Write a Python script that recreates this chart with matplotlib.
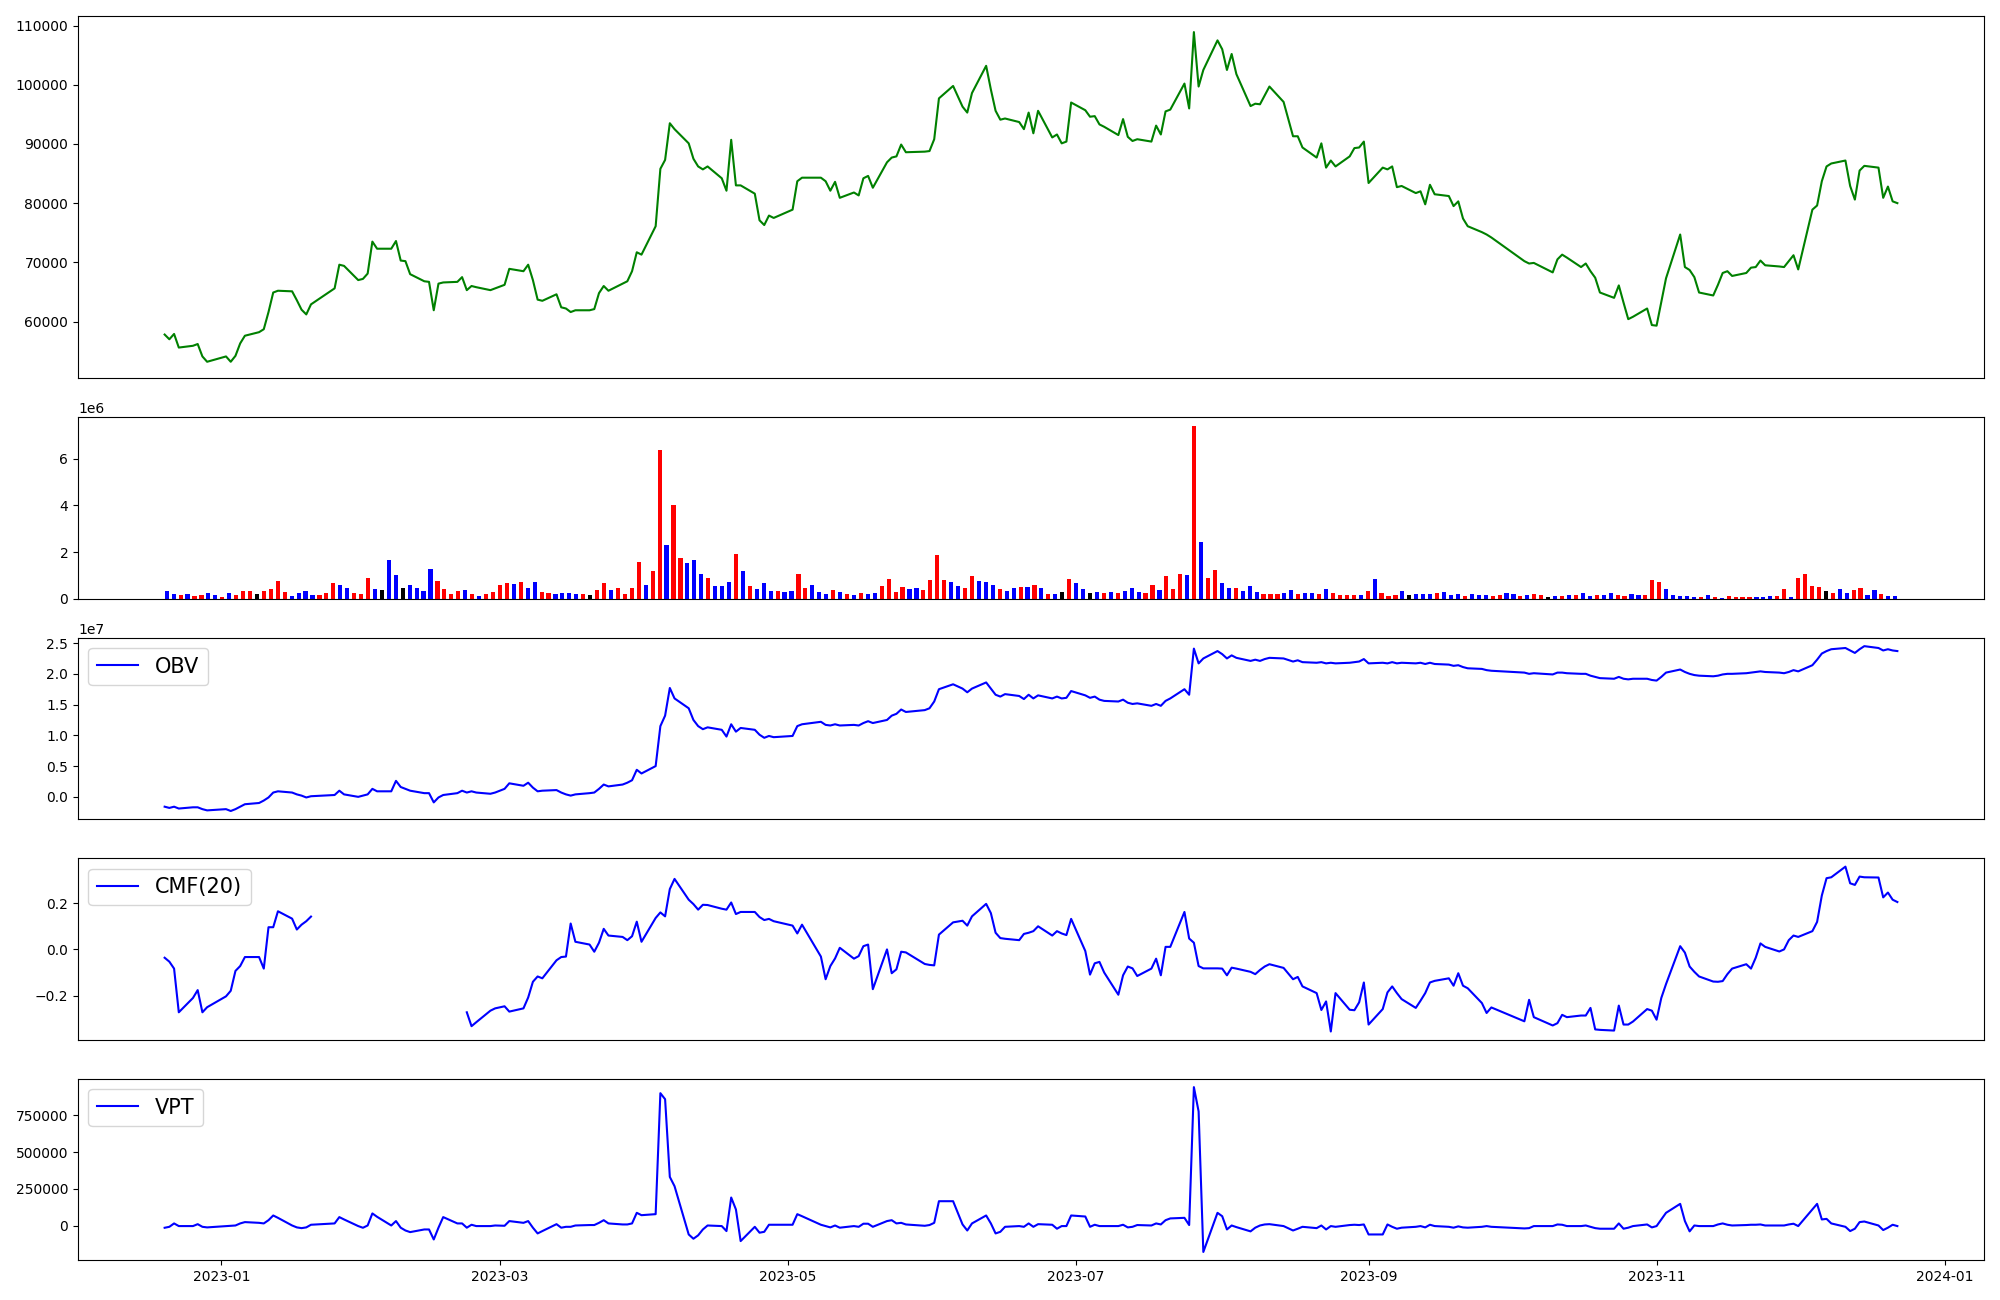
import numpy as np
import pandas as pd
import matplotlib
matplotlib.use("Agg")
import matplotlib.pyplot as plt

# trading days (KRX calendar)
holidays = ['2022-12-30', '2023-01-23', '2023-01-24', '2023-03-01', '2023-05-01',
            '2023-05-05', '2023-05-29', '2023-06-06', '2023-08-15', '2023-09-28',
            '2023-09-29', '2023-10-02', '2023-10-03', '2023-10-09']
dates = pd.bdate_range('2022-12-20', '2023-12-22', freq='C', holidays=holidays)

close = [
    57800, 57000, 57900, 55600, 55900, 56200, 54100, 53200,
    54100, 53200, 54200, 56300, 57600, 58200, 58700, 61600, 64900, 65200,
    65100, 63600, 62000, 61200, 62900, 65600, 69600, 69400, 67000, 67200,
    68100, 73500, 72300, 72300, 73600, 70300, 70200, 68000, 66800, 66700,
    61900, 66400, 66600, 66700, 67500, 65300, 66000, 65800, 65300, 65600,
    66200, 68900, 68500, 69600, 67000, 63700, 63500, 64600, 62400, 62200,
    61600, 61900, 61900, 62100, 64800, 66000, 65200, 66400, 66800, 68500, 71700, 71300,
    76100, 85800, 87300, 93500, 92500, 90100, 87500, 86200, 85700, 86200,
    84200, 82100, 90700, 83000, 83000, 81600, 77100, 76300, 77900, 77500,
    78900, 83700, 84300, 84300, 83700, 82100, 83600, 80900, 81800, 81300,
    84200, 84600, 82600, 86900, 87700, 87900, 89900, 88600, 88700, 88800,
    90800, 97700, 99800, 96300, 95300, 98600, 103200, 99200, 95600, 94100,
    94300, 93700, 92500, 95300, 91800, 95600, 91100, 91600, 90100, 90400, 97000,
    95700, 94600, 94700, 93300, 92900, 91500, 94200, 91200, 90500, 90800,
    90400, 93100, 91600, 95500, 95800, 100200, 96000, 108900, 99700, 102500, 107500,
    106000, 102500, 105200, 101800, 96400, 96800, 96700, 98200, 99700, 97100,
    91300, 91300, 89400, 87700, 90100, 86000, 87200, 86200, 87900, 89300, 89400, 90400,
    83400, 86000, 85700, 86200, 82700, 82900, 81700, 82000, 79800, 83100,
    81500, 81200, 79500, 80300, 77400, 76100, 75100, 74700, 74200,
    70200, 69800, 69900, 68300, 70500, 71300, 70800, 69200, 69800, 68500,
    67400, 64900, 64000, 66100, 63200, 60400, 60800, 62200, 59400,
    59300, 63300, 67300, 74700, 69200, 68700, 67500, 64900, 64400, 66200,
    68200, 68500, 67700, 68200, 69100, 69200, 70300, 69500, 69300, 69200, 70200, 71200,
    68800, 78900, 79600, 83700, 86200, 86700, 87200, 82900, 80600, 85500,
    86300, 86000, 80900, 82800, 80300, 80000,
]

# volume in millions
volume_m = [
    0.34, 0.21, 0.17, 0.21, 0.13, 0.17, 0.26, 0.17, 0.09, 0.26,
    0.17, 0.34, 0.34, 0.21, 0.34, 0.43, 0.77, 0.30, 0.13, 0.26,
    0.34, 0.17, 0.17, 0.26, 0.68, 0.60, 0.47, 0.26, 0.21, 0.90,
    0.43, 0.38, 1.67, 1.03, 0.47, 0.60, 0.47, 0.34, 1.28, 0.77,
    0.43, 0.21, 0.34, 0.38, 0.21, 0.13, 0.21, 0.30, 0.60, 0.68,
    0.64, 0.73, 0.47, 0.73, 0.30, 0.26, 0.21, 0.26, 0.26, 0.21,
    0.21, 0.17, 0.38, 0.68, 0.38, 0.47, 0.21, 0.47, 1.58, 0.60,
    1.20, 6.37, 2.31, 4.02, 1.75, 1.54, 1.67, 1.07, 0.90, 0.56,
    0.56, 0.73, 1.92, 1.20, 0.56, 0.43, 0.68, 0.34, 0.34, 0.30,
    0.34, 1.07, 0.47, 0.60, 0.30, 0.21, 0.38, 0.30, 0.21, 0.17,
    0.26, 0.21, 0.26, 0.56, 0.85, 0.30, 0.51, 0.43, 0.47, 0.38,
    0.81, 1.88, 0.81, 0.73, 0.56, 0.47, 0.98, 0.77, 0.73, 0.60,
    0.43, 0.34, 0.47, 0.51, 0.51, 0.60, 0.47, 0.21, 0.21, 0.30,
    0.85, 0.68, 0.43, 0.26, 0.30, 0.26, 0.30, 0.26, 0.34, 0.47,
    0.30, 0.26, 0.60, 0.38, 0.98, 0.43, 1.07, 1.03, 7.39, 2.44,
    0.90, 1.24, 0.68, 0.47, 0.47, 0.34, 0.56, 0.30, 0.21, 0.21,
    0.21, 0.26, 0.38, 0.21, 0.26, 0.26, 0.21, 0.43, 0.26, 0.17,
    0.17, 0.17, 0.17, 0.34, 0.85, 0.26, 0.13, 0.17, 0.34, 0.17,
    0.21, 0.21, 0.21, 0.26, 0.30, 0.17, 0.21, 0.13, 0.21, 0.17,
    0.17, 0.13, 0.17, 0.26, 0.21, 0.13, 0.17, 0.21, 0.17, 0.09,
    0.13, 0.13, 0.17, 0.17, 0.26, 0.13, 0.17, 0.17, 0.26, 0.17,
    0.13, 0.21, 0.17, 0.17, 0.81, 0.73, 0.43, 0.17, 0.13, 0.13,
    0.09, 0.09, 0.17, 0.09, 0.04, 0.13, 0.09, 0.09, 0.09, 0.09,
    0.09, 0.13, 0.13, 0.43, 0.09, 0.90, 1.07, 0.56, 0.51, 0.34,
    0.26, 0.43, 0.26, 0.38, 0.47, 0.17, 0.38, 0.21, 0.13, 0.13,
]

# candle direction: R = up, B = down, K = unchanged
candle = ("BBRBRRBBRB" "RRRKRRRRBB" "BBRRRBBRRR" "BKBBKBBBBR" "RRRBRBRRRR"
          "BRBBRRBBBB" "RKRRBRRRRB" "RRBRRBBBRB" "BBRBRBBBRB" "BRRBBBRBRB"
          "RBBRRRRBBR" "RRRBBRRBBB" "RBBRBRBRBK" "RBBKBRBRBB" "BRRBRRRBRB"
          "RRBBRBBBRR" "RBBRBBRBRR" "RRBRBRRRBK" "BBBRBBBRBB" "BRRBBRBRRK"
          "BRBRBBRBBR" "RBBRRRBBBB" "BRBRBRRRRB" "BBRRBRRRRK" "RBBRRBBRBB")

# OBV in 1e7
obv = [
    -0.16, -0.18, -0.16, -0.19, -0.17, -0.17, -0.20, -0.22,
    -0.20, -0.23, -0.20, -0.16, -0.12, -0.10, -0.06, -0.01, 0.07, 0.09,
    0.07, 0.04, 0.02, -0.01, 0.01, 0.03, 0.10, 0.04, 0.00, 0.02,
    0.04, 0.13, 0.09, 0.09, 0.26, 0.16, 0.13, 0.10, 0.06, 0.06,
    -0.09, -0.01, 0.03, 0.06, 0.10, 0.07, 0.09, 0.07, 0.05, 0.07,
    0.13, 0.22, 0.18, 0.23, 0.15, 0.09, 0.10, 0.11, 0.07, 0.04,
    0.02, 0.04, 0.06, 0.07, 0.13, 0.20, 0.17, 0.20, 0.23, 0.27, 0.44, 0.38,
    0.50, 1.15, 1.32, 1.77, 1.60, 1.44, 1.25, 1.15, 1.10, 1.13,
    1.09, 0.98, 1.18, 1.06, 1.12, 1.09, 1.01, 0.96, 0.99, 0.97,
    0.99, 1.15, 1.18, 1.22, 1.17, 1.16, 1.18, 1.16, 1.17, 1.16,
    1.20, 1.23, 1.20, 1.25, 1.32, 1.35, 1.42, 1.38, 1.41, 1.44,
    1.55, 1.75, 1.83, 1.76, 1.70, 1.76, 1.86, 1.76, 1.66, 1.63,
    1.67, 1.64, 1.59, 1.66, 1.60, 1.65, 1.60, 1.63, 1.60, 1.61, 1.72,
    1.65, 1.61, 1.63, 1.58, 1.56, 1.55, 1.58, 1.53, 1.51, 1.52,
    1.48, 1.51, 1.48, 1.56, 1.60, 1.75, 1.66, 2.41, 2.17, 2.25, 2.37,
    2.32, 2.25, 2.30, 2.26, 2.21, 2.23, 2.21, 2.24, 2.26, 2.25,
    2.20, 2.22, 2.19, 2.18, 2.19, 2.17, 2.18, 2.17, 2.18, 2.19, 2.20, 2.24,
    2.17, 2.18, 2.17, 2.19, 2.17, 2.18, 2.17, 2.18, 2.16, 2.18,
    2.16, 2.15, 2.13, 2.14, 2.11, 2.09, 2.08, 2.06, 2.05,
    2.02, 2.00, 2.01, 1.99, 2.02, 2.02, 2.01, 2.00, 2.00, 1.97,
    1.95, 1.93, 1.92, 1.95, 1.92, 1.91, 1.92, 1.92, 1.90,
    1.89, 1.95, 2.02, 2.07, 2.03, 2.00, 1.98, 1.97, 1.96, 1.97,
    1.99, 2.00, 2.00, 2.01, 2.02, 2.03, 2.04, 2.03, 2.02, 2.01, 2.03, 2.06,
    2.04, 2.14, 2.23, 2.33, 2.37, 2.40, 2.42, 2.38, 2.34, 2.40,
    2.45, 2.42, 2.38, 2.40, 2.38, 2.37,
]

nan = np.nan
cmf = [
    -0.036, -0.053, -0.083, -0.272, -0.21, -0.176, -0.272, -0.25,
    -0.203, -0.179, -0.093, -0.072, -0.033, -0.033, -0.083, 0.096, 0.096, 0.165,
    0.133, 0.086, 0.107, 0.122, 0.142, nan, nan, nan, nan, nan,
    nan, nan, nan, nan, nan, nan, nan, nan, nan, nan,
    nan, nan, nan, nan, nan, -0.272, -0.332, -0.315, -0.265, -0.255,
    -0.246, -0.269, -0.255, -0.208, -0.140, -0.117, -0.125, -0.047, -0.033, -0.031,
    0.112, 0.033, 0.021, -0.010, 0.029, 0.089, 0.060, 0.054, 0.040, 0.057, 0.120, 0.033,
    0.136, 0.160, 0.143, 0.261, 0.305, 0.215, 0.196, 0.172, 0.193, 0.192,
    0.176, 0.172, 0.203, 0.153, 0.162, 0.162, 0.140, 0.127, 0.132, 0.122,
    0.103, 0.069, 0.107, -0.031, -0.129, -0.072, -0.039, 0.007, -0.040, -0.029,
    0.014, 0.021, -0.172, 0.000, -0.103, -0.086, -0.010, -0.013, -0.063, -0.067,
    -0.069, 0.064, 0.117, 0.124, 0.103, 0.143, 0.197, 0.157, 0.072, 0.049,
    0.046, 0.040, 0.067, 0.072, 0.079, 0.100, 0.060, 0.079, 0.069, 0.062, 0.132,
    -0.007, -0.109, -0.060, -0.054, -0.100, -0.196, -0.112, -0.074, -0.082, -0.115,
    -0.083, -0.040, -0.112, 0.011, 0.011, 0.162, 0.047, 0.029, -0.072, -0.082, -0.082,
    -0.083, -0.112, -0.079, -0.083, -0.097, -0.107, -0.089, -0.074, -0.064, -0.080,
    -0.129, -0.119, -0.160, -0.189, -0.262, -0.225, -0.355, -0.189, -0.261, -0.263, -0.229, -0.143,
    -0.325, -0.258, -0.186, -0.160, -0.189, -0.215, -0.253, -0.222, -0.189, -0.143,
    -0.136, -0.125, -0.157, -0.103, -0.157, -0.168, -0.232, -0.275, -0.251,
    -0.311, -0.218, -0.293, -0.329, -0.319, -0.283, -0.293, -0.286, -0.286, -0.253,
    -0.346, -0.348, -0.351, -0.243, -0.325, -0.325, -0.312, -0.258, -0.265,
    -0.304, -0.210, -0.150, 0.014, -0.014, -0.074, -0.097, -0.117, -0.139, -0.140,
    -0.137, -0.107, -0.083, -0.064, -0.083, -0.036, 0.026, 0.011, -0.009, 0.000, 0.040, 0.060,
    0.054, 0.079, 0.119, 0.233, 0.308, 0.312, 0.358, 0.286, 0.279, 0.315,
    0.312, 0.311, 0.225, 0.246, 0.215, 0.205,
]

vpt = [
    -13500, -7000, 16000, -2000, -2000, 11000, -7000, -11000,
    -2000, 0, 2000, 16000, 25000, 20000, 16000, 38000, 70000, 54000,
    2000, -11000, -16000, -11000, 7000, 16000, 59000, 43000, -2000, -13500,
    2000, 84000, 61000, 2000, 32000, -13000, -32000, -43000, -25000, -25000,
    -93000, -13000, 59000, 16000, 16000, -13000, 7000, -2000, -2000, 2000,
    0, 32000, 20000, 32000, -13000, -52000, -36000, 11000, -13000, -7000,
    -7000, 2000, 5000, 5000, 20000, 38000, 16000, 9000, 9000, 16000, 88000, 72000,
    79000, 901000, 860000, 332000, 269000, -59000, -88000, -65000, -25000, 2000,
    -2000, -36000, 192000, 111000, -104000, -7000, -47000, -41000, 7000, 7000,
    7000, 79000, 65000, 7000, -2000, -11000, 2000, -13000, -2000, -7000,
    14000, 14000, -7000, 32000, 38000, 16000, 20000, 9000, 0, 5000,
    20000, 167000, 167000, 9000, -32000, 16000, 70000, 16000, -52000, -41000,
    -7000, -2000, -7000, 16000, -7000, 11000, 7000, -20000, -2000, -2000, 70000,
    63000, -7000, 7000, -2000, -2000, -2000, 7000, -11000, -7000, 5000,
    2000, 16000, 9000, 38000, 50000, 54000, 5000, 942000, 777000, -178000, 88000,
    65000, -25000, 2000, -9000, -38000, -13000, 2000, 9000, 11000, -2000,
    -32000, -20000, -7000, -16000, 2000, -25000, -2000, -7000, 5000, 7000, 5000, 9000,
    -59000, -59000, 9000, -7000, -20000, -13000, -7000, -2000, -11000, 7000,
    -2000, -7000, -13000, -4000, -11000, -13000, -7000, -2000, -7000,
    -18000, -16000, -2000, -2000, 9000, 7000, -2000, -2000, 2000, -7000,
    -16000, -20000, -20000, 16000, -20000, -13000, -2000, 9000, -11000,
    -2000, 43000, 88000, 149000, 32000, -38000, 2000, -2000, -2000, 9000,
    16000, 7000, 2000, 5000, 7000, 7000, 9000, 2000, 2000, 2000, 9000, 14000,
    -2000, 111000, 149000, 43000, 47000, 16000, -7000, -36000, -20000, 25000,
    29000, 2000, -29000, -13000, 7000, -2000,
]

volume = np.array(volume_m) * 1e6
obv = np.array(obv) * 1e7
bar_colors = [{'R': 'red', 'B': 'blue', 'K': 'black'}[c] for c in candle]

fig, axes = plt.subplots(5, 1, figsize=(20, 13), dpi=100,
                         gridspec_kw={'height_ratios': [2, 1, 1, 1, 1]})
ax_p, ax_v, ax_obv, ax_cmf, ax_vpt = axes

ax_p.plot(dates, close, color='green')
ax_p.set_xticks([])

ax_v.bar(np.arange(len(volume)), volume, color=bar_colors, width=0.6)
ax_v.set_xticks([])

ax_obv.plot(dates, obv, color='blue', label='OBV')
ax_obv.legend(loc='upper left', fontsize=15)
ax_obv.set_xticks([])

ax_cmf.plot(dates, cmf, color='blue', label='CMF(20)')
ax_cmf.legend(loc='upper left', fontsize=15)
ax_cmf.set_xticks([])

ax_vpt.plot(dates, vpt, color='blue', label='VPT')
ax_vpt.legend(loc='upper left', fontsize=15)

fig.subplots_adjust(left=0.039, right=0.992, top=0.988, bottom=0.0306, hspace=0.18)
fig.savefig('out.png')
